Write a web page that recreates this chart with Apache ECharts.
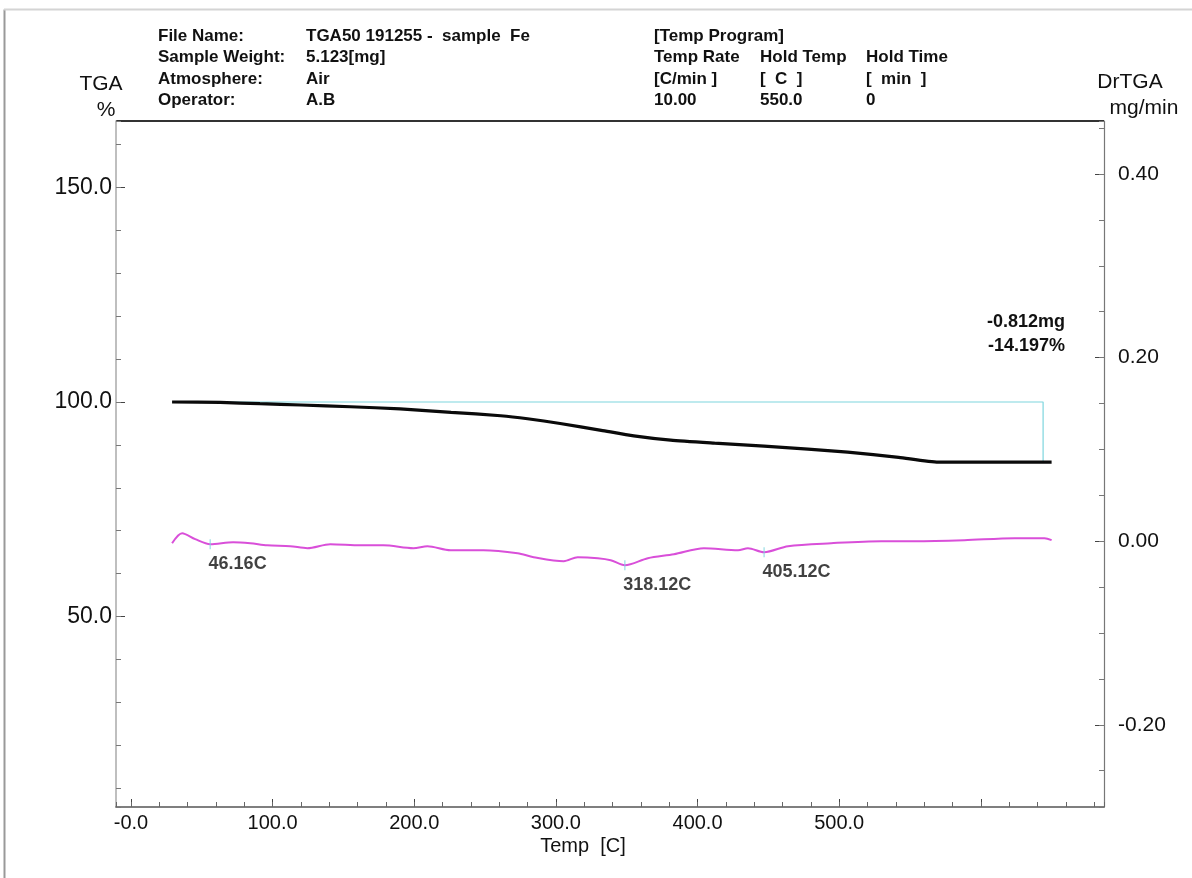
<!DOCTYPE html>
<html><head><meta charset="utf-8">
<script src="https://cdn.jsdelivr.net/npm/echarts@6/dist/echarts.min.js"></script>
<style>html,body{margin:0;padding:0;background:#fff}#c{width:1192px;height:878px}</style>
</head><body><div id="c"></div>
<script>
// ---- data ----
const tgaTemp = [29, 63, 91, 120, 155, 190, 226, 261, 280, 303, 332, 355, 381, 412, 447, 478, 506, 542, 570, 615, 650];
const tgaPct  = [100.0, 99.9, 99.6, 99.3, 98.9, 98.4, 97.6, 96.8, 96.1, 95.0, 93.4, 92.1, 91.1, 90.4, 89.7, 89.0, 88.3, 87.1, 86.0, 86.0, 86.0];

const dtgTemp = [29, 36.1, 45.3, 55.9, 72.1, 84.2, 96.2, 112.4, 124.5, 140.7, 162, 178.2, 199.4, 209.3, 225.6, 248.9, 273, 284.3, 305.5, 315.4, 329.6, 338.7, 348.7, 364.9, 383.3, 404.5, 428.6, 435.6, 447, 463.9, 494.3, 529.7, 553, 588.4, 623.8, 645, 650];
const dtgVal  = [-0.0022, 0.0087, 0.0022, -0.0033, -0.0011, -0.0022, -0.0044, -0.0054, -0.0076, -0.0033, -0.0044, -0.0044, -0.0076, -0.0054, -0.0098, -0.0098, -0.0131, -0.0174, -0.0218, -0.0174, -0.0185, -0.0207, -0.0262, -0.0185, -0.0142, -0.0076, -0.0098, -0.0076, -0.0120, -0.0054, -0.0022, 0.0, 0.0, 0.0011, 0.0033, 0.0033, 0.0011];

const stepTemp = [29, 644, 644];
const stepPct  = [100.0, 100.0, 86.0];

const peakTemp   = [55.9, 348.7, 447];
const peakVal    = [-0.0033, -0.0262, -0.0120];
const peakLabels = ['46.16C', '318.12C', '405.12C'];

const xTickLabels = ['-0.0', '100.0', '200.0', '300.0', '400.0', '500.0'];
const lossLabels = ['-0.812mg', '-14.197%'];

const headerLeftKeys = ['File Name:', 'Sample Weight:', 'Atmosphere:', 'Operator:'];
const headerLeftVals = ['TGA50 191255 -  sample  Fe', '5.123[mg]', 'Air', 'A.B'];
const headerRight = [
  ['[Temp Program]', '', ''],
  ['Temp Rate', 'Hold Temp', 'Hold Time'],
  ['[C/min ]', '[  C  ]', '[  min  ]'],
  ['10.00', '550.0', '0']
];

// ---- layout ----
const FONT = '"Liberation Sans", Arial, Helvetica, sans-serif';
const G = {left: 116, top: 121, right: 88, bottom: 71};
const W = 1192, H = 878;
const X0 = G.left, X1 = W - G.right, Y0 = G.top, Y1 = H - G.bottom;

const chart = echarts.init(document.getElementById('c'), null, {renderer: 'canvas'});

function zip(a, b) { return a.map((v, i) => [v, b[i]]); }

const graphics = [];
graphics.push({type: 'line', shape: {x1: 4.5, y1: 9.5, x2: 4.5, y2: H}, style: {stroke: '#999', lineWidth: 2}, silent: true});
graphics.push({type: 'line', shape: {x1: 4, y1: 9.5, x2: W, y2: 9.5}, style: {stroke: '#d4d4d4', lineWidth: 2}, silent: true});
graphics.push({type: 'line', shape: {x1: X0, y1: Y0, x2: X1, y2: Y0}, style: {stroke: '#333', lineWidth: 2}, silent: true});

const rowY = [36, 57, 79, 100];
headerLeftKeys.forEach((t, i) => {
  graphics.push({type: 'text', x: 158, y: rowY[i], style: {text: t, font: 'bold 17px ' + FONT, fill: '#111', textVerticalAlign: 'middle'}});
  graphics.push({type: 'text', x: 306, y: rowY[i], style: {text: headerLeftVals[i], font: 'bold 17px ' + FONT, fill: '#111', textVerticalAlign: 'middle'}});
});
const colX = [654, 760, 866];
headerRight.forEach((row, i) => {
  row.forEach((t, j) => {
    if (t) graphics.push({type: 'text', x: colX[j], y: rowY[i], style: {text: t, font: 'bold 17px ' + FONT, fill: '#111', textVerticalAlign: 'middle'}});
  });
});
graphics.push({type: 'text', x: 101, y: 84, style: {text: 'TGA', font: '21px ' + FONT, fill: '#111', textAlign: 'center', textVerticalAlign: 'middle'}});
graphics.push({type: 'text', x: 106, y: 110, style: {text: '%', font: '21px ' + FONT, fill: '#111', textAlign: 'center', textVerticalAlign: 'middle'}});
graphics.push({type: 'text', x: 1130, y: 82, style: {text: 'DrTGA', font: '21px ' + FONT, fill: '#111', textAlign: 'center', textVerticalAlign: 'middle'}});
graphics.push({type: 'text', x: 1144, y: 108, style: {text: 'mg/min', font: '21px ' + FONT, fill: '#111', textAlign: 'center', textVerticalAlign: 'middle'}});
graphics.push({type: 'text', x: 583, y: 846, style: {text: 'Temp  [C]', font: '20px ' + FONT, fill: '#111', textAlign: 'center', textVerticalAlign: 'middle'}});
lossLabels.forEach((t, i) => {
  graphics.push({type: 'text', x: 1065, y: 322 + i * 24, style: {text: t, font: 'bold 18px ' + FONT, fill: '#111', textAlign: 'right', textVerticalAlign: 'middle'}});
});

function xFmt(v) {
  const k = Math.round(v / 100);
  if (Math.abs(v - k * 100) > 1e-6 || k < 0 || k >= xTickLabels.length) return '';
  return xTickLabels[k];
}
function yLFmt(v) {
  if (Math.abs(v / 50 - Math.round(v / 50)) > 1e-6) return '';
  return v.toFixed(1);
}
function yRFmt(v) {
  if (Math.abs(v / 0.2 - Math.round(v / 0.2)) > 1e-6) return '';
  const r = Math.round(v * 100) / 100;
  return (r === 0 ? 0 : r).toFixed(2);
}

const xMin = -10.6, xMax = 687;
const yLMin = 5.6, yLMax = 165.5;
const yRMin = -0.2896, yRMax = 0.4578;
const lblStyle = {color: '#111', fontFamily: FONT};

const option = {
  animation: false,
  backgroundColor: '#fff',
  grid: {left: G.left, top: G.top, right: G.right, bottom: G.bottom, containLabel: false},
  xAxis: [
    {type: 'value', min: xMin, max: xMax, position: 'bottom', splitNumber: 7, minInterval: 100, maxInterval: 100,
     axisLine: {show: true, onZero: false, lineStyle: {color: '#555', width: 1.5}},
     axisTick: {show: true, inside: true, length: 8, lineStyle: {color: '#444', width: 1}},
     axisLabel: Object.assign({formatter: xFmt, fontSize: 20, margin: 6, showMinLabel: false, showMaxLabel: false}, lblStyle),
     splitLine: {show: false}},
    {type: 'value', min: xMin, max: xMax, position: 'bottom', splitNumber: 35, minInterval: 20, maxInterval: 20,
     axisLine: {show: false, onZero: false},
     axisTick: {show: true, inside: true, length: 5, lineStyle: {color: '#666', width: 1}},
     axisLabel: {show: false}, splitLine: {show: false}}
  ],
  yAxis: [
    {type: 'value', min: yLMin, max: yLMax, position: 'left', splitNumber: 3, minInterval: 50, maxInterval: 50,
     axisLine: {show: true, onZero: false, lineStyle: {color: '#aaa', width: 1.5}},
     axisTick: {show: true, inside: true, length: 9, lineStyle: {color: '#444', width: 1}},
     axisLabel: Object.assign({formatter: yLFmt, fontSize: 23, margin: 4, showMinLabel: false, showMaxLabel: false}, lblStyle),
     splitLine: {show: false}},
    {type: 'value', min: yLMin, max: yLMax, position: 'left', splitNumber: 16, minInterval: 10, maxInterval: 10,
     axisLine: {show: false, onZero: false},
     axisTick: {show: true, inside: true, length: 5, lineStyle: {color: '#777', width: 1}},
     axisLabel: {show: false}, splitLine: {show: false}},
    {type: 'value', min: yRMin, max: yRMax, position: 'right', splitNumber: 4, minInterval: 0.2, maxInterval: 0.2,
     axisLine: {show: true, onZero: false, lineStyle: {color: '#777', width: 1.2}},
     axisTick: {show: true, inside: true, length: 9, lineStyle: {color: '#444', width: 1}},
     axisLabel: Object.assign({formatter: yRFmt, fontSize: 21, margin: 14, showMinLabel: false, showMaxLabel: false}, lblStyle),
     splitLine: {show: false}},
    {type: 'value', min: yRMin, max: yRMax, position: 'right', splitNumber: 15, minInterval: 0.05, maxInterval: 0.05,
     axisLine: {show: false, onZero: false},
     axisTick: {show: true, inside: true, length: 5, lineStyle: {color: '#777', width: 1}},
     axisLabel: {show: false}, splitLine: {show: false}}
  ],
  series: [
    {type: 'line', name: 'step', xAxisIndex: 0, yAxisIndex: 0, data: zip(stepTemp, stepPct), symbol: 'none',
     lineStyle: {color: '#7fd6de', width: 1.2}, z: 2},
    {type: 'line', name: 'TGA', xAxisIndex: 0, yAxisIndex: 0, data: zip(tgaTemp, tgaPct), symbol: 'none', smooth: 0.2,
     lineStyle: {color: '#0a0a0a', width: 3.2}, z: 3},
    {type: 'line', name: 'DrTGA', xAxisIndex: 0, yAxisIndex: 2, data: zip(dtgTemp, dtgVal), symbol: 'none', smooth: 0.3,
     lineStyle: {color: '#d94fd9', width: 2}, z: 3},
    {type: 'scatter', name: 'peaks', xAxisIndex: 0, yAxisIndex: 2,
     data: peakTemp.map((t, i) => ({value: [t, peakVal[i]], label: {formatter: peakLabels[i]}})),
     symbol: 'rect', symbolSize: [1.2, 10], itemStyle: {color: '#7fd6de'}, z: 4,
     label: {show: true, position: [-1, 16], align: 'left', verticalAlign: 'top', fontSize: 18, fontWeight: 'bold', color: '#111', fontFamily: FONT}}
  ],
  graphic: graphics
};
chart.setOption(option);
</script>
</body></html>
